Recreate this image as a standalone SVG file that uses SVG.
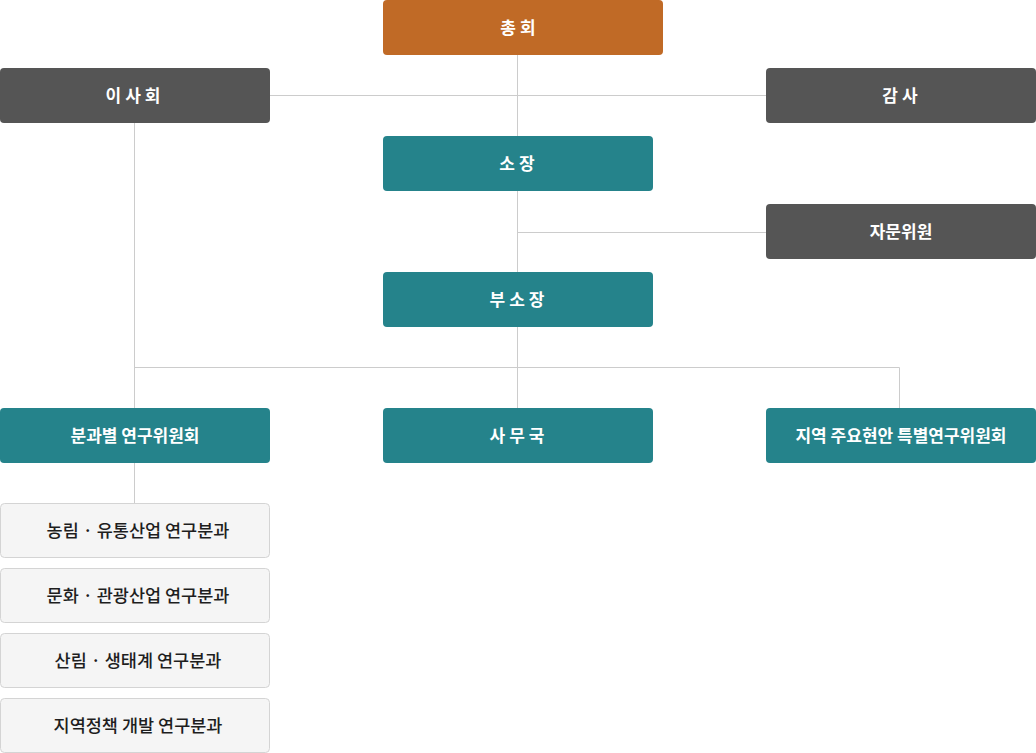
<svg xmlns="http://www.w3.org/2000/svg" width="1036" height="753" viewBox="0 0 1036 753">
<style>
.o{fill:#c06a26}
.g{fill:#555555}
.t{fill:#25838b}
.s{fill:#f5f5f5;stroke:#d4d4d4;stroke-width:1}
.lb{font-family:"Noto Sans CJK KR","Noto Sans",sans-serif;font-size:17px;font-weight:bold;fill:#ffffff;text-anchor:middle;dominant-baseline:central}
.sp{letter-spacing:4px}
.sl{font-family:"Noto Sans CJK KR","Noto Sans",sans-serif;font-size:17.5px;font-weight:500;fill:#1e1e1e;text-anchor:middle;dominant-baseline:central}
#connectors line{stroke:#cccccc;stroke-width:1}
</style>
<g id="connectors">
<line x1="517.5" y1="54" x2="517.5" y2="408"/>
<line x1="270" y1="95.5" x2="766" y2="95.5"/>
<line x1="517.5" y1="232.5" x2="766" y2="232.5"/>
<line x1="134.5" y1="122" x2="134.5" y2="408"/>
<line x1="134.5" y1="462" x2="134.5" y2="503"/>
<line x1="134.5" y1="367.5" x2="899.5" y2="367.5"/>
<line x1="899.5" y1="367.5" x2="899.5" y2="408"/>
</g>
<g id="n-chonghoe"><rect class="o" x="383" y="0" width="280" height="55" rx="4"/><text class="lb sp" x="520" y="26">총회</text></g>
<g id="n-isahoe"><rect class="g" x="0" y="68" width="270" height="55" rx="4"/><text class="lb sp" x="135" y="94">이사회</text></g>
<g id="n-gamsa"><rect class="g" x="766" y="68" width="270" height="55" rx="4"/><text class="lb sp" x="902" y="94">감사</text></g>
<g id="n-sojang"><rect class="t" x="383" y="136" width="270" height="55" rx="4"/><text class="lb sp" x="519" y="162">소장</text></g>
<g id="n-jamun"><rect class="g" x="766" y="204" width="270" height="55" rx="4"/><text class="lb" x="901" y="230">자문위원</text></g>
<g id="n-busojang"><rect class="t" x="383" y="272" width="270" height="55" rx="4"/><text class="lb sp" x="519" y="298">부소장</text></g>
<g id="n-bungwa"><rect class="t" x="0" y="408" width="270" height="55" rx="4"/><text class="lb" x="135" y="434">분과별 연구위원회</text></g>
<g id="n-samuguk"><rect class="t" x="383" y="408" width="270" height="55" rx="4"/><text class="lb sp" x="519" y="434">사무국</text></g>
<g id="n-special"><rect class="t" x="766" y="408" width="270" height="55" rx="4"/><text class="lb" x="901" y="434">지역 주요현안 특별연구위원회</text></g>
<g id="n-sub1"><rect class="s" x="0.5" y="503.5" width="269" height="54" rx="4"/><text class="sl" x="138" y="529">농림 · 유통산업 연구분과</text></g>
<g id="n-sub2"><rect class="s" x="0.5" y="568.5" width="269" height="54" rx="4"/><text class="sl" x="138" y="594">문화 · 관광산업 연구분과</text></g>
<g id="n-sub3"><rect class="s" x="0.5" y="633.5" width="269" height="54" rx="4"/><text class="sl" x="138" y="659">산림 · 생태계 연구분과</text></g>
<g id="n-sub4"><rect class="s" x="0.5" y="698.5" width="269" height="54" rx="4"/><text class="sl" x="138" y="724">지역정책 개발 연구분과</text></g>
</svg>
